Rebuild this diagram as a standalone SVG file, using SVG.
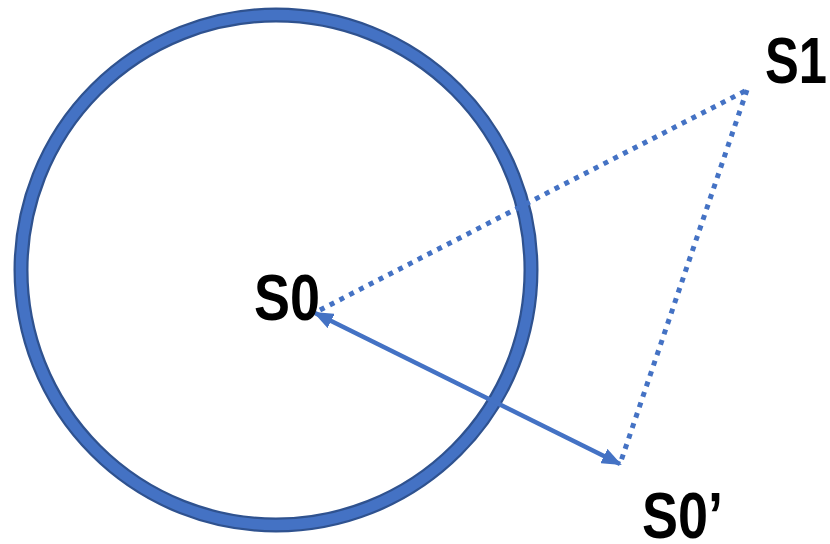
<svg xmlns="http://www.w3.org/2000/svg" width="830" height="544" viewBox="0 0 830 544">
<style>
.lbl{font-family:"Liberation Sans",Arial,sans-serif;font-weight:bold;font-size:64px;fill:#000}
.dot{fill:none;stroke:#4472C4;stroke-width:5;stroke-dasharray:5 6}
.arr{fill:none;stroke:#4472C4;stroke-width:4.5}
</style>
<defs>
<marker id="ah" markerUnits="userSpaceOnUse" markerWidth="20" markerHeight="16" refX="18" refY="8" orient="auto-start-reverse" viewBox="0 0 20 16">
<path d="M0,0 L20,8 L0,16 Z" fill="#4472C4"/>
</marker>
</defs>
<g id="circle">
<circle cx="276" cy="270" r="255" fill="none" stroke="#2F528F" stroke-width="15"/>
<circle cx="276" cy="270" r="255" fill="none" stroke="#4472C4" stroke-width="10.5"/>
</g>
<g id="connectors">
<line class="dot" x1="320" y1="310" x2="747" y2="90"/>
<line class="dot" x1="747" y1="90" x2="620" y2="464"/>
<line class="arr" x1="315" y1="313" x2="620" y2="464" marker-start="url(#ah)" marker-end="url(#ah)"/>
</g>
<g id="S0"><text class="lbl" x="254" y="320" textLength="66" lengthAdjust="spacingAndGlyphs">S0</text></g>
<g id="S1"><text class="lbl" x="765" y="83" textLength="62" lengthAdjust="spacingAndGlyphs">S1</text></g>
<g id="S0prime"><text class="lbl" x="642" y="538" textLength="81" lengthAdjust="spacingAndGlyphs">S0’</text></g>
</svg>
